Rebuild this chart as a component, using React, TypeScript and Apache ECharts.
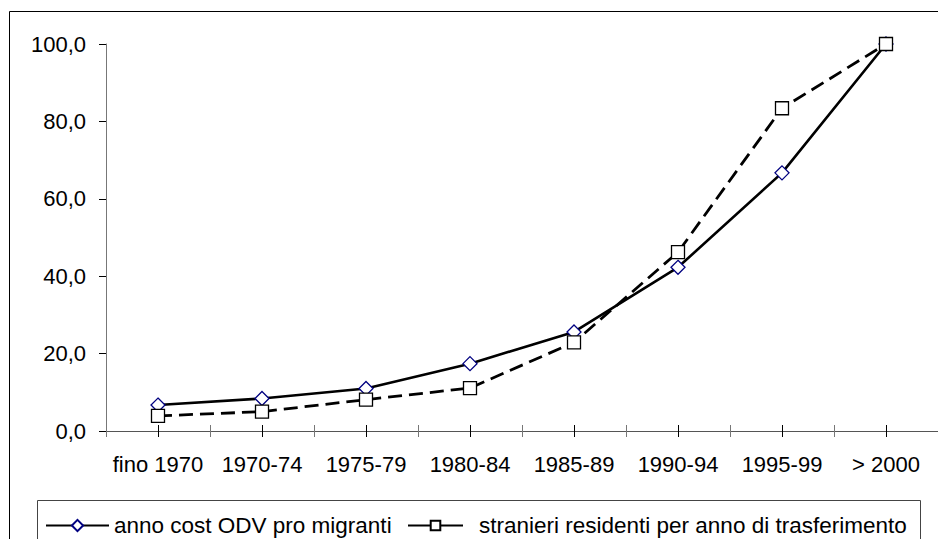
import React, { useEffect, useRef } from "react";
import * as echarts from "echarts";

const categories = ["fino 1970", "1970-74", "1975-79", "1980-84", "1985-89", "1990-94", "1995-99", "> 2000"];
const seriesNames = ["anno cost ODV pro migranti", "stranieri residenti per anno di trasferimento"];
const odvValues = [6.7, 8.4, 11.0, 17.4, 25.6, 42.3, 66.7, 100.0];
const stranieriValues = [3.9, 5.0, 8.1, 11.1, 22.9, 46.2, 83.4, 100.0];
const yMin = 0;
const yMax = 100;
const yInterval = 20;

const FONT = "'Liberation Sans', Arial, sans-serif";

export default function App() {
  const ref = useRef<HTMLDivElement>(null);

  useEffect(() => {
    if (!ref.current) return;
    const chart = echarts.init(ref.current, null, { renderer: "svg" });

    const tickAxis = (alignWithLabel: boolean, inside: boolean, color: string, labels: boolean, line: boolean) => ({
      type: "category",
      data: categories,
      position: "bottom",
      gridIndex: 0,
      boundaryGap: true,
      axisLine: { show: line, lineStyle: { color: "#555", width: 1 } },
      axisTick: { show: true, alignWithLabel, inside, length: 6, lineStyle: { color, width: 1 } },
      axisLabel: {
        show: labels,
        color: "#000",
        fontFamily: FONT,
        fontSize: 22,
        margin: 22,
        interval: 0,
      },
      splitLine: { show: false },
    });

    chart.setOption({
      animation: false,
      backgroundColor: "#fff",
      grid: { left: 106, right: 0, top: 44, bottom: 108, containLabel: false },
      xAxis: [
        tickAxis(true, false, "#000", true, true),
        tickAxis(true, true, "#000", false, false),
        tickAxis(false, false, "#777", false, false),
        tickAxis(false, true, "#777", false, false),
      ],
      yAxis: {
        type: "value",
        min: yMin,
        max: yMax,
        interval: yInterval,
        axisLine: { show: true, lineStyle: { color: "#777", width: 1 } },
        axisTick: { show: true, length: 7, lineStyle: { color: "#000", width: 1 } },
        splitLine: { show: false },
        axisLabel: {
          color: "#000",
          fontFamily: FONT,
          fontSize: 22,
          margin: 20,
          formatter: (v: number) => v.toFixed(1).replace(".", ","),
        },
      },
      legend: [
        {
          data: [seriesNames[0]],
          left: 45,
          top: 514,
          padding: 0,
          itemWidth: 63,
          itemHeight: 14,
          textStyle: { color: "#000", fontFamily: FONT, fontSize: 22.5, padding: [0, 0, 0, 0] },
        },
        {
          data: [{ name: seriesNames[1], lineStyle: { type: "solid" } }],
          left: 407,
          top: 514,
          padding: 0,
          itemWidth: 55,
          itemHeight: 12,
          textStyle: { color: "#000", fontFamily: FONT, fontSize: 22.5, padding: [0, 0, 0, 11] },
        },
      ],
      graphic: [
        {
          type: "rect",
          shape: { x: 9.5, y: 11.5, width: 940, height: 540 },
          style: { fill: "none", stroke: "#000", lineWidth: 1 },
          silent: true,
          z: -1,
        },
        {
          type: "rect",
          shape: { x: 37.5, y: 500.5, width: 883, height: 60 },
          style: { fill: "none", stroke: "#444", lineWidth: 1 },
          silent: true,
          z: -1,
        },
      ],
      series: [
        {
          name: seriesNames[0],
          type: "line",
          data: odvValues,
          xAxisIndex: 0,
          symbol: "diamond",
          symbolSize: 14,
          showAllSymbol: true,
          lineStyle: { color: "#000", width: 2.6, type: "solid" },
          itemStyle: { color: "#fff", borderColor: "#000080", borderWidth: 1.3 },
          z: 2,
        },
        {
          name: seriesNames[1],
          type: "line",
          data: stranieriValues,
          xAxisIndex: 0,
          symbol: "rect",
          symbolSize: 13,
          showAllSymbol: true,
          lineStyle: { color: "#000", width: 2.8, type: [14, 7] },
          itemStyle: { color: "#fff", borderColor: "#000", borderWidth: 1.3 },
          z: 3,
        },
      ],
    });

    return () => chart.dispose();
  }, []);

  return (
    <div
      ref={ref}
      style={{ position: "absolute", left: 0, top: 0, width: 938, height: 539 }}
    />
  );
}
